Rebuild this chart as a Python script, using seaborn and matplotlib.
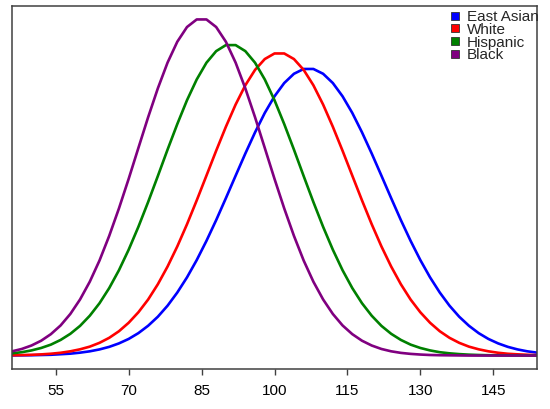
import matplotlib
matplotlib.use("Agg")
import matplotlib.pyplot as plt
from matplotlib.lines import Line2D
import numpy as np
import pandas as pd
import seaborn as sns

# IQ grid (x) and curve heights (arbitrary density units)
iq = [46, 48, 50, 52, 54, 56, 58, 60, 62, 64, 66, 68, 70, 72, 74, 76, 78, 80, 82, 84,
      86, 88, 90, 92, 94, 96, 98, 100, 102, 104, 106, 108, 110, 112, 114, 116, 118, 120,
      122, 124, 126, 128, 130, 132, 134, 136, 138, 140, 142, 144, 146, 148, 150, 152, 154]

east_asian = [0.001, 0.002, 0.003, 0.005, 0.007, 0.012, 0.017, 0.026, 0.038, 0.055,
              0.078, 0.109, 0.149, 0.201, 0.267, 0.348, 0.447, 0.565, 0.701, 0.856,
              1.028, 1.214, 1.411, 1.612, 1.811, 2.001, 2.175, 2.324, 2.443, 2.526,
              2.569, 2.569, 2.526, 2.443, 2.324, 2.175, 2.001, 1.811, 1.612, 1.411,
              1.214, 1.028, 0.856, 0.701, 0.565, 0.447, 0.348, 0.267, 0.201, 0.149,
              0.109, 0.078, 0.055, 0.038, 0.026]

white = [0.0025, 0.0041, 0.0066, 0.0105, 0.0164, 0.025, 0.038, 0.056, 0.080, 0.114,
         0.159, 0.218, 0.294, 0.388, 0.502, 0.639, 0.798, 0.978, 1.177, 1.391,
         1.613, 1.836, 2.051, 2.250, 2.423, 2.561, 2.658, 2.708, 2.708, 2.658,
         2.561, 2.423, 2.250, 2.051, 1.836, 1.613, 1.391, 1.177, 0.978, 0.798,
         0.639, 0.502, 0.388, 0.294, 0.218, 0.159, 0.114, 0.080, 0.056, 0.038,
         0.025, 0.016, 0.011, 0.007, 0.004]

hispanic = [0.020, 0.030, 0.046, 0.068, 0.098, 0.140, 0.195, 0.266, 0.357, 0.469,
            0.605, 0.765, 0.949, 1.154, 1.376, 1.609, 1.846, 2.075, 2.289, 2.475,
            2.625, 2.729, 2.783, 2.783, 2.729, 2.625, 2.475, 2.289, 2.075, 1.846,
            1.609, 1.376, 1.154, 0.949, 0.765, 0.605, 0.469, 0.357, 0.266, 0.195,
            0.140, 0.098, 0.068, 0.046, 0.030, 0.020, 0.013, 0.008, 0.005, 0.003,
            0.002, 0.001, 0.001, 0.000, 0.000]

black = [0.038, 0.059, 0.090, 0.133, 0.192, 0.270, 0.373, 0.503, 0.662, 0.852,
         1.073, 1.319, 1.584, 1.861, 2.136, 2.395, 2.626, 2.813, 2.945, 3.013,
         3.013, 2.945, 2.813, 2.626, 2.395, 2.136, 1.861, 1.584, 1.319, 1.073,
         0.852, 0.662, 0.503, 0.373, 0.270, 0.192, 0.133, 0.090, 0.059, 0.038,
         0.024, 0.015, 0.009, 0.005, 0.003, 0.002, 0.001, 0.000, 0.000, 0.000,
         0.000, 0.000, 0.000, 0.000, 0.000]

groups = ["East Asian", "White", "Hispanic", "Black"]
colors = ["#0000FF", "#FF0000", "#008000", "#800080"]
xticks = [55, 70, 85, 100, 115, 130, 145]

df = pd.concat([
    pd.DataFrame({"iq": iq, "density": vals, "group": g})
    for g, vals in zip(groups, [east_asian, white, hispanic, black])
])

sns.set_theme(style="white")
plt.rcParams["font.family"] = ["Liberation Sans", "DejaVu Sans"]

fig = plt.figure(figsize=(5.5, 4.09), dpi=100)
ax = fig.add_axes([12 / 550, 1 - 369 / 409, 525 / 550, 363 / 409])

sns.lineplot(data=df, x="iq", y="density", hue="group", hue_order=groups,
             palette=colors, estimator=None, sort=True, linewidth=1.9,
             legend=False, ax=ax)

ymax = df["density"].max()
ax.set_xlim(46, 154)
ax.set_ylim(-0.04 * ymax, 1.04 * ymax)
ax.set_xticks(xticks)
ax.set_xticklabels([str(t) for t in xticks], fontsize=11)
ax.set_yticks([])
ax.set_xlabel("")
ax.set_ylabel("")
ax.tick_params(axis="x", bottom=True, direction="out", length=4, width=1,
               color="#404040", pad=7, labelcolor="black")
for s in ax.spines.values():
    s.set_color("#404040")
    s.set_linewidth(1.1)

handles = [Line2D([], [], marker="s", linestyle="none", markersize=5.2,
                  markerfacecolor=c, markeredgecolor="#333333", markeredgewidth=0.6)
           for c in colors]
ax.legend(handles, groups, loc="upper left", bbox_to_anchor=(452 / 550, 1 - 10 / 409),
          bbox_transform=fig.transFigure, frameon=False, fontsize=11,
          borderpad=0, borderaxespad=0, handlelength=0.4, handletextpad=0.55,
          labelspacing=-0.08)

fig.savefig("out.png", dpi=100)
